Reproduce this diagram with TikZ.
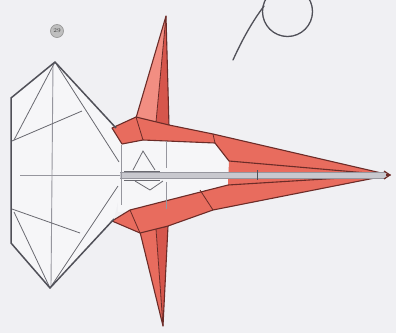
\documentclass[tikz,border=0pt]{standalone}
\begin{document}
\begin{tikzpicture}[x=1pt,y=-1pt]
\definecolor{paper}{RGB}{240,240,243}
\definecolor{blank}{RGB}{246,246,248}
\definecolor{wing}{RGB}{232,108,94}
\definecolor{wingl}{RGB}{242,142,130}
\definecolor{wingd}{RGB}{214,86,76}
\definecolor{edge}{RGB}{108,44,40}
\definecolor{ink}{RGB}{80,80,88}
\definecolor{crease}{RGB}{150,150,158}
\definecolor{strip}{RGB}{200,200,206}
\tikzset{
  redpart/.style={fill=wing, draw=edge, line width=1.1pt, line join=round},
  outline/.style={draw=ink, line width=1.5pt, line join=round},
  foldline/.style={draw=ink!85, line width=0.8pt},
  creaseline/.style={draw=crease, line width=0.9pt},
  redfold/.style={draw=edge, line width=0.8pt},
}
\fill[paper] (0,0) rectangle (396,333);
\useasboundingbox (0,0) rectangle (396,333);
\clip (0,0) rectangle (396,333);

% key points of the model
\coordinate (T) at (55,62);
\coordinate (L1) at (11,98);
\coordinate (L2) at (11,243);
\coordinate (B) at (50,288);
\coordinate (J1) at (116,128);
\coordinate (J2) at (114,219);
\coordinate (N) at (390,175);

% head
\fill[blank] (T) -- (L1) -- (L2) -- (B) -- (J2) -- (124,175) -- (J1) -- cycle;
% white panels between the arms
\fill[blank] (118,140) -- (214,142) -- (229,161) -- (228,185) -- (212,205) -- (118,212) -- cycle;

% red strip along the body axis, under the centre crease
\fill[wing] (229,161) -- (N) -- (228,185) -- cycle;

% upper spike
\fill[wingl] (166,16) -- (136,118) -- (156,122) -- cycle;
\fill[wingd] (166,16) -- (156,122) -- (169,126) -- cycle;
\draw[redpart, fill=none] (166,16) -- (136,118) -- (169,126) -- cycle;
\draw[redfold] (166,16) -- (156,122);

% lower spike
\fill[wing] (163,326) -- (140,232) -- (156,229) -- cycle;
\fill[wingd] (163,326) -- (156,229) -- (168,226) -- cycle;
\draw[redpart, fill=none] (163,326) -- (140,232) -- (168,226) -- cycle;
\draw[redfold] (163,326) -- (156,229);

% upper arm and body
\draw[redpart] (112,128) -- (136,117) -- (169,125) -- (213,134) -- (N)
  -- (229,161) -- (215,143) -- (143,140) -- (122,144) -- cycle;
\draw[redfold] (213,134) -- (215,143);
\draw[redfold] (136,117) -- (143,140);
% lower arm and body
\draw[redpart] (112,221) -- (130,210) -- (228,185) -- (N)
  -- (213,210) -- (168,226) -- (140,233) -- cycle;
\draw[redfold] (130,210) -- (140,233);
\draw[redfold] (200,190) -- (213,210);

% center strip
\fill[strip] (120,172) rectangle (386,178);
\draw[creaseline] (20,175) -- (120,175);
\draw[creaseline] (120,172) -- (386,172);
\draw[creaseline] (120,178) -- (386,178);
\draw[ink, line width=1pt] (257,170) -- (257,180);
\draw[edge, line width=1.2pt] (384,171) -- (N) -- (384,179);

% small folds near the neck
\draw[creaseline] (121,145) -- (121,205);
\draw[creaseline] (166,141) -- (166,168);
\draw[creaseline] (166,182) -- (166,209);
\draw[foldline] (133,170) -- (143,151) -- (155,170);
\draw[foldline] (135,181) -- (150,190) -- (163,181);
\draw[foldline] (124,171) -- (160,171);
\draw[foldline] (124,180) -- (160,180);

% head creases
\draw[creaseline] (53,64) -- (51,286);
\draw[foldline] (T) -- (14,140);
\draw[foldline] (12,141) -- (82,111);
\draw[foldline] (T) -- (119,162);
\draw[foldline] (B) -- (14,212);
\draw[foldline] (12,209) -- (80,233);
\draw[foldline] (B) -- (118,186);

% head outline
\draw[outline] (J1) -- (T) -- (L1) -- (L2) -- (B) -- (J2);

% turn-over arrow
\draw[ink, line width=1.3pt, line cap=round] (233,60) .. controls (242,40) and (252,22) .. (264,6);
\draw[ink, line width=1.3pt] (287.5,11.5) circle[radius=25];

% step number
\node[circle, draw=gray!80, fill=gray!50, line width=0.7pt, minimum size=13pt,
      inner sep=0pt, text=black!75, font=\fontsize{6}{6}\selectfont] (num) at (57,31) {29};
\end{tikzpicture}
\end{document}
